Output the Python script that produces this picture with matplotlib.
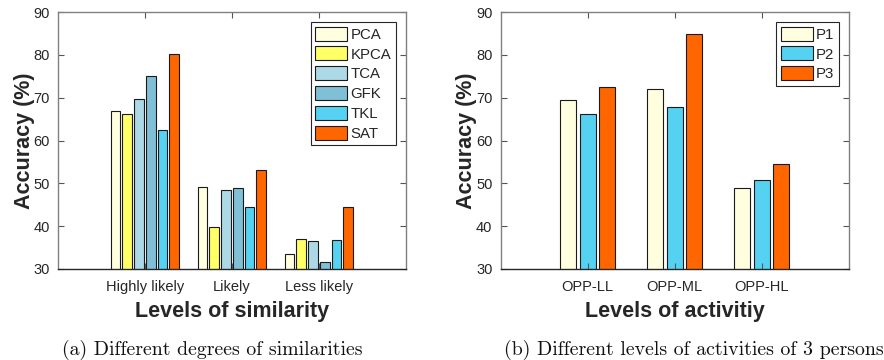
import numpy as np
import matplotlib
matplotlib.use('Agg')
import matplotlib.pyplot as plt

# データ
sim_levels = ['Highly likely', 'Likely', 'Less likely']
methods = ['PCA', 'KPCA', 'TCA', 'GFK', 'TKL', 'SAT']
sim_acc = {
    'PCA': [67.0, 49.1, 33.4],
    'KPCA': [66.3, 39.7, 37.0],
    'TCA': [69.7, 48.4, 36.5],
    'GFK': [75.0, 48.8, 31.6],
    'TKL': [62.4, 44.5, 36.7],
    'SAT': [80.2, 53.0, 44.4],
}

act_levels = ['OPP-LL', 'OPP-ML', 'OPP-HL']
persons = ['P1', 'P2', 'P3']
act_acc = {
    'P1': [69.5, 72.1, 48.9],
    'P2': [66.3, 67.9, 50.8],
    'P3': [72.5, 84.8, 54.4],
}

# 色
method_colors = ['#FFFFE0', '#FFFF66', '#ADD8E6', '#80C0D6', '#55D2F2', '#FF6600']
person_colors = ['#FFFFE0', '#55D2F2', '#FF6600']

plt.rcParams['font.family'] = ['Liberation Sans', 'DejaVu Sans']
TEXT_COLOR = '#262626'

fig = plt.figure(figsize=(8.84, 3.6), dpi=100)
W, H = 884, 360


def px_axes(x0, x1, y0, y1):
    # ピクセル座標で軸を配置
    return fig.add_axes([x0 / W, 1 - y1 / H, (x1 - x0) / W, (y1 - y0) / H])


def style_axes(ax, categories, xlabel):
    ax.set_xlim(0, 4)
    ax.set_ylim(30, 90)
    ax.set_xticks(np.arange(1, len(categories) + 1))
    ax.set_xticklabels(categories)
    ax.set_yticks(np.arange(30, 91, 10))
    ax.tick_params(direction='in', length=4, width=0.8, top=True, right=True,
                   labelsize=10.5, colors=TEXT_COLOR, pad=6)
    ax.tick_params(axis='x', colors='#555555', labelcolor=TEXT_COLOR, pad=8)
    ax.tick_params(axis='y', colors='#555555', labelcolor=TEXT_COLOR)
    for side in ['left', 'top', 'right']:
        ax.spines[side].set_color('#808080')
        ax.spines[side].set_linewidth(1.0)
    ax.spines['bottom'].set_color('#262626')
    ax.spines['bottom'].set_linewidth(1.0)
    ax.set_xlabel(xlabel, fontsize=15.5, fontweight='bold', color=TEXT_COLOR, labelpad=5)
    ax.set_ylabel('Accuracy (%)', fontsize=15.5, fontweight='bold', color=TEXT_COLOR, labelpad=-1)


def legend(ax):
    leg = ax.legend(loc='upper right', fontsize=10.8, frameon=True, fancybox=False,
                    edgecolor='#262626', framealpha=1, handlelength=2.13, handleheight=1.07,
                    handletextpad=0.2, labelspacing=0.31, borderpad=0.3, borderaxespad=0.67)
    leg.get_frame().set_linewidth(0.8)
    for t in leg.get_texts():
        t.set_color(TEXT_COLOR)
    return leg


# (a) 類似度別
ax1 = px_axes(58, 405.7, 12, 269)
x = np.arange(1, len(sim_levels) + 1)
step = 0.135
for i, (m, c) in enumerate(zip(methods, method_colors)):
    ax1.bar(x + (i - 2.5) * step, sim_acc[m], width=0.112, bottom=0,
            color=c, edgecolor='#1a1a1a', linewidth=0.8, label=m)
style_axes(ax1, sim_levels, 'Levels of similarity')
legend(ax1)

# (b) 活動レベル別
ax2 = px_axes(500.7, 848.7, 12, 269)
step = 0.223
for i, (p, c) in enumerate(zip(persons, person_colors)):
    ax2.bar(x + (i - 1) * step, act_acc[p], width=0.181, bottom=0,
            color=c, edgecolor='#1a1a1a', linewidth=0.8, label=p)
style_axes(ax2, act_levels, 'Levels of activitiy')
legend(ax2)

# キャプション
fig.text(212 / W, 1 - 355 / H, '(a) Different degrees of similarities',
         family='cmr10', fontsize=14.3, ha='center', va='baseline', color='#111111')
fig.text(694 / W, 1 - 355 / H, '(b) Different levels of activities of 3 persons',
         family='cmr10', fontsize=14.3, ha='center', va='baseline', color='#111111')

fig.savefig('out.png', dpi=100)
